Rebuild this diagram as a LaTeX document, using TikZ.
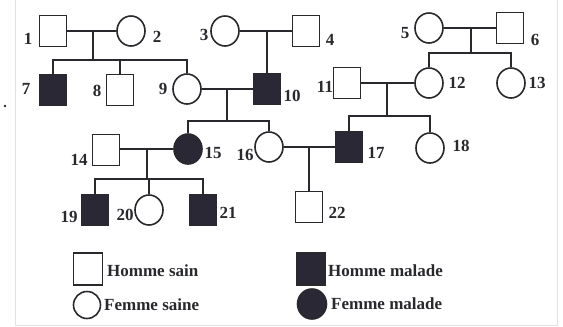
\documentclass[tikz,border=0pt]{standalone}
\usepackage{fontspec}
\setmainfont{Liberation Serif}
\usetikzlibrary{shapes.geometric}
\definecolor{ink}{RGB}{40,40,45}
\definecolor{sick}{RGB}{42,40,52}
\definecolor{frame}{RGB}{225,225,225}
\tikzset{
  man/.style={draw=ink, line width=1.6pt, minimum width=27pt, minimum height=31pt, inner sep=0pt},
  woman/.style={ellipse, draw=ink, line width=1.6pt, minimum width=28pt, minimum height=30pt, inner sep=0pt},
  ill/.style={fill=sick},
  tag/.style={font=\fontsize{17}{17}\selectfont\bfseries, text=ink, inner sep=0pt},
  key/.style={font=\fontsize{17}{17}\selectfont\bfseries, text=ink, anchor=west, inner sep=0pt},
  link/.style={draw=ink, line width=1.5pt}
}
\begin{document}
\begin{tikzpicture}[x=1pt,y=-1pt]
\useasboundingbox (0,0) rectangle (563,327);
% faint frame of the figure
\draw[frame, line width=0.8pt] (15,0) -- (15,325) -- (557,325) -- (557,0);
\fill[ink] (5,106) circle (1.3);

% generation I
\node[man]   (p1) at (53,31) {};
\node[woman] (p2) at (131,31) {};
\node[woman] (p3) at (225,31) {};
\node[man]   (p4) at (306,31) {};
\node[woman] (p5) at (429,28) {};
\node[man]   (p6) at (510,28) {};

% generation II
\node[man,ill] (p7) at (53,90) {};
\node[man]     (p8) at (120,90) {};
\node[woman]   (p9) at (187,89) {};
\node[man,ill] (p10) at (267,89) {};
\node[man]     (p11) at (347,83) {};
\node[woman]   (p12) at (429,83) {};
\node[woman]   (p13) at (511,83) {};

% generation III
\node[man]       (p14) at (106,150) {};
\node[woman,ill] (p15) at (188,149) {};
\node[woman]     (p16) at (269,147) {};
\node[man,ill]   (p17) at (349,147) {};
\node[woman]     (p18) at (430,148) {};

% generation IV
\node[man,ill] (p19) at (95,210) {};
\node[woman]   (p20) at (149,210) {};
\node[man,ill] (p21) at (203,210) {};
\node[man]     (p22) at (309,207) {};

% individual numbers
\node[tag] (n1) at (28,39) {1};
\node[tag] (n2) at (157,37) {2};
\node[tag] (n3) at (204,35) {3};
\node[tag] (n4) at (330,40) {4};
\node[tag] (n5) at (405,33) {5};
\node[tag] (n6) at (535,40) {6};
\node[tag] (n7) at (26,89) {7};
\node[tag] (n8) at (97,91) {8};
\node[tag] (n9) at (163,89) {9};
\node[tag] (n10) at (292,96) {10};
\node[tag] (n11) at (325,87) {11};
\node[tag] (n12) at (457,83) {12};
\node[tag] (n13) at (537,83) {13};
\node[tag] (n14) at (79,160) {14};
\node[tag] (n15) at (213,153) {15};
\node[tag] (n16) at (245,155) {16};
\node[tag] (n17) at (376,153) {17};
\node[tag] (n18) at (461,146) {18};
\node[tag] (n19) at (69,217) {19};
\node[tag] (n20) at (125,215) {20};
\node[tag] (n21) at (228,213) {21};
\node[tag] (n22) at (337,213) {22};

% couples and their offspring
\coordinate (c12) at (93,31);
\coordinate (s12) at (93,60);
\draw[link] (p1) -- (p2);
\draw[link] (c12) -- (s12);
\draw[link] (p7.north) |- (s12) -| (p9.north);
\draw[link] (p8.north) -- (p8.north |- s12);

\coordinate (c34) at (267,31);
\draw[link] (p3) -- (p4);
\draw[link] (c34) -- (p10.north);

\coordinate (c56) at (471,28);
\coordinate (s56) at (471,53);
\draw[link] (p5) -- (p6);
\draw[link] (c56) -- (s56);
\draw[link] (p12.north) |- (s56) -| (p13.north);

\coordinate (c910) at (227,89);
\coordinate (s910) at (227,121);
\draw[link] (p9) -- (p10);
\draw[link] (c910) -- (s910);
\draw[link] (p15.north) |- (s910) -| (p16.north);

\coordinate (c1112) at (387,83);
\coordinate (s1112) at (387,116);
\draw[link] (p11) -- (p12);
\draw[link] (c1112) -- (s1112);
\draw[link] (p17.north) |- (s1112) -| (p18.north);

\coordinate (c1415) at (147,149);
\coordinate (s1415) at (147,179);
\draw[link] (p14.east |- c1415) -- (p15);
\draw[link] (c1415) -- (s1415);
\draw[link] (p19.north) |- (s1415) -| (p21.north);
\draw[link] (p20.north) -- (p20.north |- s1415);

\coordinate (c1617) at (309,147);
\draw[link] (p16) -- (p17);
\draw[link] (c1617) -- (p22.north);

% legend
\node[man, minimum width=29pt, minimum height=32pt] (k1) at (88,269) {};
\node[key] (t1) at (107,271) {Homme sain};
\node[man, ill, minimum width=28pt, minimum height=32pt] (k2) at (311,269) {};
\node[key] (t2) at (328,271) {Homme malade};
\node[woman, minimum width=27pt, minimum height=27pt] (k3) at (87,305) {};
\node[key] (t3) at (104,305) {Femme saine};
\node[woman, ill, minimum width=29pt, minimum height=30pt] (k4) at (312,304) {};
\node[key] (t4) at (331,304) {Femme malade};
\end{tikzpicture}
\end{document}
